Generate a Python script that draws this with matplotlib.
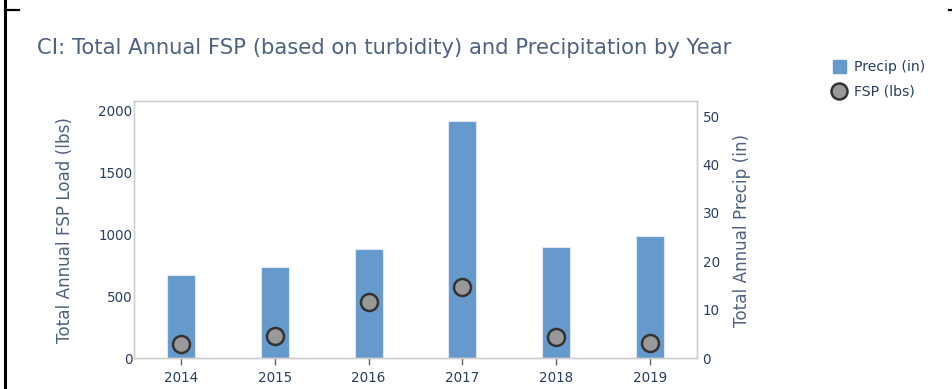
import matplotlib
matplotlib.use("Agg")
import matplotlib.pyplot as plt
from matplotlib.lines import Line2D

years = ["2014", "2015", "2016", "2017", "2018", "2019"]
precip_in = [17.1, 18.9, 22.6, 49.0, 23.0, 25.3]
fsp_lbs = [113, 182, 454, 577, 169, 121]
left_ticks = [0, 500, 1000, 1500, 2000]
right_ticks = [0, 10, 20, 30, 40, 50]

W, H = 953, 389
fig = plt.figure(figsize=(W / 100, H / 100), dpi=100)
plt.rcParams["font.family"] = ["DejaVu Sans"]

TXT = "#2a3f5f"
TITLE = "#4f6280"
FRAME = "#d0d0d0"


def px(v):
    return v * 0.72  # pixel size -> points at 100 dpi


# plot area in pixel coordinates
x0, x1, yt, yb = 134, 697, 101, 358.3
ax = fig.add_axes([x0 / W, (H - yb) / H, (x1 - x0) / W, (yb - yt) / H])
ax2 = ax.twinx()

xs = list(range(len(years)))
ax2.bar(xs, precip_in, width=0.3, color="#6699cc", edgecolor="#dfe8f3",
        linewidth=0.8, zorder=2)
ax.scatter(xs, fsp_lbs, s=px(17) ** 2, c="#999999", edgecolors="#333333",
           linewidths=1.8, zorder=5)

# left axis (FSP) drawn on top of the bars
ax.set_zorder(ax2.get_zorder() + 1)
ax.patch.set_visible(False)

ax.set_xlim(-0.5, len(years) - 0.5)
ax.set_ylim(0, 2075)
ax2.set_ylim(0, 53.1)

ax.set_xticks(xs)
ax.set_xticklabels(years)
ax.set_yticks(left_ticks)
ax2.set_yticks(right_ticks)

ax.tick_params(axis="x", length=5, width=1, color="#666666", pad=4,
               labelsize=px(13.5), labelcolor=TXT)
ax.tick_params(axis="y", length=0, pad=1, labelsize=px(13.5), labelcolor=TXT)
ax2.tick_params(axis="y", length=0, pad=4, labelsize=px(13.5), labelcolor=TXT)

for a in (ax, ax2):
    for s in a.spines.values():
        s.set_color(FRAME)
        s.set_linewidth(1)

fig.text(65 / W, 1 - 230.5 / H, "Total Annual FSP Load (lbs)", rotation=90,
         ha="center", va="center", fontsize=px(16.7), color=TITLE)
fig.text(742 / W, 1 - 230.5 / H, "Total Annual Precip (in)", rotation=90,
         ha="center", va="center", fontsize=px(16.7), color=TITLE)

fig.text(37 / W, 1 - 48 / H,
         "CI: Total Annual FSP (based on turbidity) and Precipitation by Year",
         ha="left", va="center", fontsize=px(21.1), color=TITLE)

# legend
handles = [
    Line2D([], [], marker="s", linestyle="none", markersize=px(13),
           markerfacecolor="#6699cc", markeredgecolor="#6699cc"),
    Line2D([], [], marker="o", linestyle="none", markersize=px(16),
           markerfacecolor="#999999", markeredgecolor="#333333",
           markeredgewidth=1.8),
]
fig.legend(handles, ["Precip (in)", "FSP (lbs)"], loc="upper left",
           bbox_to_anchor=(832 / W, 1 - 60 / H), frameon=False,
           fontsize=px(14), labelcolor=TXT, handletextpad=0.6,
           labelspacing=0.75, handlelength=1.0, borderaxespad=0, borderpad=0)

# page edge marks
fig.add_artist(Line2D([5 / W, 5 / W], [0, 1], color="black", lw=2.2,
                      transform=fig.transFigure))
fig.add_artist(Line2D([5 / W, 19 / W], [1 - 9.5 / H, 1 - 9.5 / H],
                      color="black", lw=1.6, transform=fig.transFigure))
fig.add_artist(Line2D([949 / W, 953 / W], [1 - 9.5 / H, 1 - 9.5 / H],
                      color="black", lw=1.6, transform=fig.transFigure))

fig.savefig("out.png", dpi=100)
